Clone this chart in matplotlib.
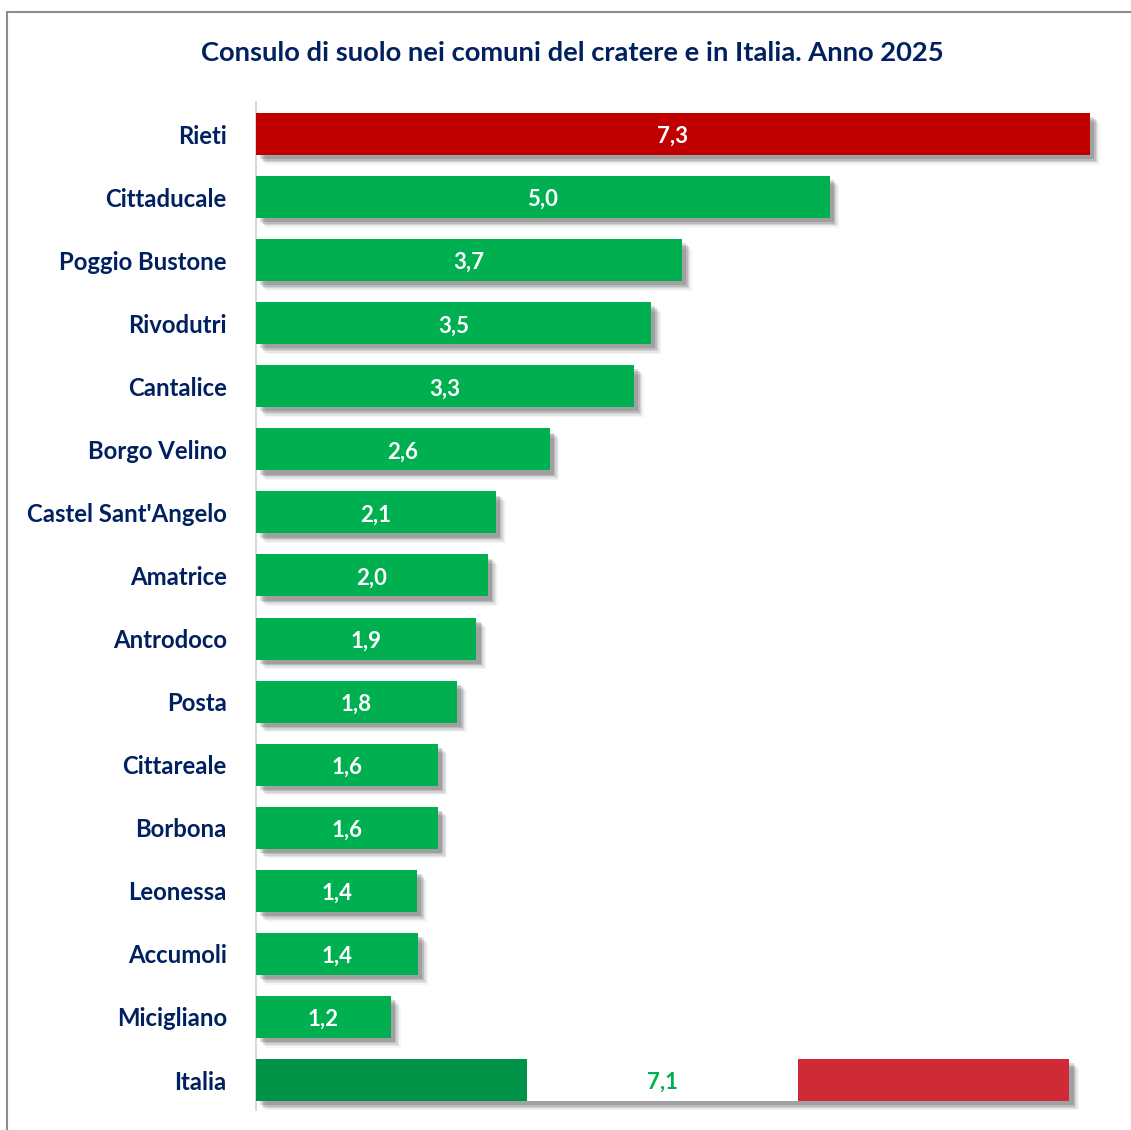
import matplotlib
matplotlib.use("Agg")
import matplotlib.pyplot as plt
import matplotlib.patheffects as pe
from matplotlib.patches import Rectangle

categories = ["Rieti", "Cittaducale", "Poggio Bustone", "Rivodutri", "Cantalice",
              "Borgo Velino", "Castel Sant'Angelo", "Amatrice", "Antrodoco", "Posta",
              "Cittareale", "Borbona", "Leonessa", "Accumoli", "Micigliano", "Italia"]
values = [7.3, 5.02, 3.73, 3.46, 3.31, 2.57, 2.10, 2.03, 1.93, 1.76, 1.59, 1.59, 1.41, 1.42, 1.18, 7.12]
labels = ["7,3", "5,0", "3,7", "3,5", "3,3", "2,6", "2,1", "2,0", "1,9", "1,8", "1,6", "1,6",
          "1,4", "1,4", "1,2", "7,1"]
title = "Consulo di suolo nei comuni del cratere e in Italia. Anno 2025"

navy = "#002060"
green = "#00B050"
red = "#C00000"
it_green, it_white, it_red = "#009246", "#FFFFFF", "#CE2B37"

plt.rcParams['font.family'] = ['Lato', 'DejaVu Sans']

W, H = 1131, 1130
fig = plt.figure(figsize=(W / 100, H / 100), dpi=100)

# frame border (cropped on right/bottom)
fig.patches.append(Rectangle((7 / W, -0.05), 1.2, (H - 12) / H + 0.05, transform=fig.transFigure,
                             fill=False, edgecolor="#8C8C8C", linewidth=1.5))

ax_left, ax_right, ax_top, ax_bot = 256, 1110, 102, 1110
ax = fig.add_axes([ax_left / W, 1 - ax_bot / H, (ax_right - ax_left) / W, (ax_bot - ax_top) / H])
ax.set_facecolor("none")
ppu = (1090 - 256) / 7.3
ax.set_xlim(0, (ax_right - ax_left) / ppu)
step = (1080 - 134) / 15
ax.set_ylim(15 + (ax_bot - 1080) / step, -(134 - ax_top) / step)

shadow = [pe.SimplePatchShadow(offset=(d, -d), shadow_rgbFace="#000000", alpha=a)
          for d, a in [(7, 0.04), (6, 0.06), (5, 0.08), (4, 0.11), (3, 0.14)]] + [pe.Normal()]

h = 42 / step
ys = list(range(len(categories)))
for i, (c, v, lab) in enumerate(zip(categories, values, labels)):
    if c == "Italia":
        seg = v / 3
        b = ax.barh(i, v, height=h, color="white", edgecolor="none", zorder=2)
        b[0].set_path_effects(shadow)
        for k, col in enumerate([it_green, it_white, it_red]):
            ax.barh(i, seg, left=k * seg, height=h, color=col, edgecolor="none", zorder=3)
        ax.text(v / 2, i + 0.04, lab, ha="center", va="center",
                color=green, fontsize=16, fontweight="bold", zorder=4)
    else:
        col = red if c == "Rieti" else green
        b = ax.barh(i, v, height=h, color=col, edgecolor="none", zorder=3)
        b[0].set_path_effects(shadow)
        ax.text(v / 2, i + 0.04, lab, ha="center", va="center",
                color="white", fontsize=16, fontweight="bold", zorder=4)

ax.set_yticks(ys)
ax.set_yticklabels(categories, fontsize=17.2, fontweight="bold", color=navy)
ax.tick_params(axis="y", length=0, pad=21)
ax.set_xticks([])
for s in ["top", "right", "bottom"]:
    ax.spines[s].set_visible(False)
ax.spines["left"].set_color("#D9D9D9")
ax.spines["left"].set_linewidth(1.5)

fig.text(572 / W, 1 - 53 / H, title, ha="center", va="center", fontsize=19.7,
         fontweight="bold", color=navy)

fig.savefig("out.png", dpi=100)
